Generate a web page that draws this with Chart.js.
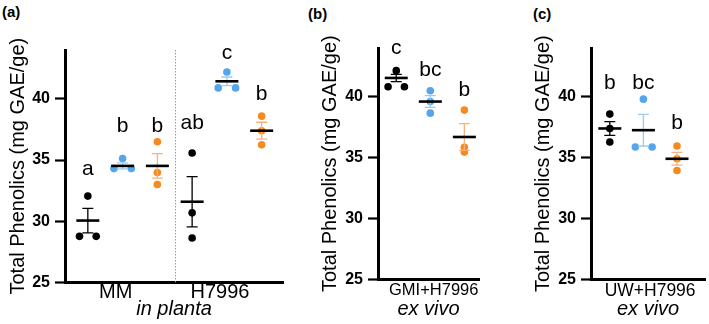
<!DOCTYPE html>
<html>
<head>
<meta charset="utf-8">
<script src="https://cdn.jsdelivr.net/npm/chart.js@4.4.1/dist/chart.umd.min.js"></script>
<style>
  body { margin: 0; background: #fff; }
  #wrap { position: relative; width: 709px; height: 324px; overflow: hidden; }
  canvas { position: absolute; top: 0; }
  .panel { position: absolute; font: bold 15px "Liberation Sans", Arial, sans-serif; color: #000; }
</style>
</head>
<body>
<div id="wrap">
  <div class="panel" style="left:2px; top:3px;">(a)</div>
  <div class="panel" style="left:308px; top:5px;">(b)</div>
  <div class="panel" style="left:533px; top:5px;">(c)</div>
  <canvas id="chartA" width="290" height="324" style="left:0px"></canvas>
  <canvas id="chartB" width="175" height="324" style="left:312px"></canvas>
  <canvas id="chartC" width="184" height="324" style="left:525px"></canvas>
</div>
<script>
var yTicks = [25, 30, 35, 40];
var yTitle = "Total Phenolics (mg GAE/ge)";

// k = black (control), b = blue, o = orange

// ---- panel (a): in planta, slots 1-3 = MM, 4-6 = H7996
var catsA    = ["MM", "H7996"];
var catPosA  = [1.8, 4.8];
var subA     = "in planta";
var colorA   = ["k", "b", "o", "k", "b", "o"];
var repsA    = [[32.05, 28.76, 28.76], [35.13, 34.3, 34.3], [36.5, 33.98, 33.0],
                [35.57, 30.68, 28.62], [42.2, 40.9, 40.9], [38.59, 37.4, 36.25]];
var jitterA  = [[0, -0.24, 0.24], [0, -0.25, 0.25], [0, 0, 0],
                [0, 0, 0], [0, -0.25, 0.25], [0, 0, 0]];
var meanA    = [30.05, 34.52, 34.52, 31.59, 41.44, 37.4];
var semA     = [1.0, 0.25, 1.0, 2.06, 0.35, 0.69];
var lettersA = ["a", "b", "b", "ab", "c", "b"];
var letterYA = [33.8, 37.3, 37.3, 37.55, 43.3, 39.9];

// ---- panel (b): GMI+H7996 ex vivo
var catsB    = ["GMI+H7996"];
var catPosB  = [2.1];
var subB     = "ex vivo";
var colorB   = ["k", "b", "o"];
var repsB    = [[42.14, 40.82, 40.82], [40.49, 39.6, 38.65], [38.9, 35.85, 35.45]];
var jitterB  = [[0, -0.24, 0.24], [0, 0, 0], [0, 0, 0]];
var meanB    = [41.54, 39.6, 36.69];
var semB     = [0.3, 0.48, 1.1];
var lettersB = ["c", "bc", "b"];
var letterYB = [43.5, 41.73, 40.08];

// ---- panel (c): UW+H7996 ex vivo
var catsC    = ["UW+H7996"];
var catPosC  = [2.2];
var subC     = "ex vivo";
var colorC   = ["k", "b", "o"];
var repsC    = [[38.57, 37.39, 36.28], [39.8, 35.87, 35.87], [35.95, 34.9, 33.94]];
var jitterC  = [[0, 0, 0], [0, -0.24, 0.26], [0, 0, 0]];
var meanC    = [37.39, 37.25, 34.9];
var semC     = [0.57, 1.3, 0.52];
var lettersC = ["b", "bc", "b"];
var letterYC = [40.63, 40.63, 37.32];

var dotColor = { k: "#000000", b: "#55a5ee", o: "#f68a1e" };
var barColor = { k: "#000000", b: "#9ccaf2", o: "#f5b27c" };
var FONT = '"Liberation Sans", Arial, sans-serif';

// mean line, SEM bars, significance letters and (a)'s divider
function marksPlugin(p) {
  return {
    id: "marks",
    afterDatasetsDraw: function(chart) {
      var ctx = chart.ctx;
      var xs = chart.scales.x;
      var ys = chart.scales.y;
      ctx.save();

      if (p.divider) {
        var dx = Math.round(xs.getPixelForValue(p.divider)) + 0.5;
        ctx.strokeStyle = "#9a9a9a";
        ctx.lineWidth = 1;
        ctx.setLineDash([1.5, 1.5]);
        ctx.beginPath();
        ctx.moveTo(dx, chart.chartArea.top);
        ctx.lineTo(dx, chart.chartArea.bottom);
        ctx.stroke();
        ctx.setLineDash([]);
      }

      for (var i = 0; i < p.mean.length; i++) {
        var x  = xs.getPixelForValue(i + 1);
        var ym = ys.getPixelForValue(p.mean[i]);
        var yt = ys.getPixelForValue(p.mean[i] + p.sem[i]);
        var yb = ys.getPixelForValue(p.mean[i] - p.sem[i]);

        ctx.strokeStyle = barColor[p.color[i]];
        ctx.lineWidth = 1.3;
        ctx.beginPath();
        ctx.moveTo(x, yt); ctx.lineTo(x, yb);
        ctx.moveTo(x - 5.5, yt); ctx.lineTo(x + 5.5, yt);
        ctx.moveTo(x - 5.5, yb); ctx.lineTo(x + 5.5, yb);
        ctx.stroke();

        ctx.strokeStyle = "#000";
        ctx.lineWidth = 2.6;
        ctx.beginPath();
        ctx.moveTo(x - 11.5, ym); ctx.lineTo(x + 11.5, ym);
        ctx.stroke();

        ctx.fillStyle = "#000";
        ctx.font = "21px " + FONT;
        ctx.textAlign = "center";
        ctx.textBaseline = "alphabetic";
        ctx.fillText(p.letters[i], x, ys.getPixelForValue(p.letterY[i]));
      }
      ctx.restore();
    }
  };
}

function makePanel(id, p) {
  var datasets = [];
  for (var i = 0; i < p.reps.length; i++) {
    var pts = [];
    for (var j = 0; j < p.reps[i].length; j++) {
      pts.push({ x: i + 1 + p.jitter[i][j], y: p.reps[i][j] });
    }
    datasets.push({
      data: pts,
      backgroundColor: dotColor[p.color[i]],
      borderWidth: 0,
      pointRadius: 3.8,
      pointHoverRadius: 3.8
    });
  }

  new Chart(document.getElementById(id), {
    type: "scatter",
    data: { datasets: datasets },
    plugins: [marksPlugin(p)],
    options: {
      responsive: false,
      animation: false,
      events: [],
      layout: { padding: { top: p.top, right: p.right, bottom: 0, left: 0 } },
      plugins: { legend: { display: false }, tooltip: { enabled: false } },
      scales: {
        x: {
          type: "linear",
          min: p.xmin,
          max: p.xmax,
          afterBuildTicks: function(scale) {
            scale.ticks = p.catPos.map(function(v) { return { value: v }; });
          },
          afterFit: function(scale) { scale.height = p.xh; },
          ticks: {
            color: "#000",
            padding: p.catPad,
            maxRotation: 0,
            autoSkip: false,
            font: { family: FONT, size: p.catSize },
            callback: function(v, idx) { return p.cats[idx]; }
          },
          grid: { display: false, drawTicks: false },
          border: { display: true, color: "#000", width: 3 },
          title: {
            display: true,
            text: p.sub,
            color: "#000",
            font: { family: FONT, size: 20, style: "italic" },
            padding: { top: 0, bottom: 3 }
          }
        },
        y: {
          min: 25,
          max: 44,
          afterBuildTicks: function(scale) {
            scale.ticks = yTicks.map(function(v) { return { value: v }; });
          },
          afterFit: function(scale) { scale.width = p.yw; },
          ticks: {
            color: "#000",
            padding: 5,
            font: { family: FONT, size: 16, weight: "bold" }
          },
          grid: {
            drawOnChartArea: false,
            drawTicks: true,
            tickLength: 10,
            tickWidth: 2.2,
            tickColor: "#000"
          },
          border: { display: true, color: "#000", width: 3 },
          title: {
            display: true,
            text: yTitle,
            color: "#000",
            font: { family: FONT, size: 20 },
            padding: { top: 6, bottom: 0 }
          }
        }
      }
    }
  });
}

makePanel("chartA", {
  cats: catsA, catPos: catPosA, sub: subA, color: colorA, reps: repsA, jitter: jitterA,
  mean: meanA, sem: semA, letters: lettersA, letterY: letterYA,
  xmin: 0.343, xmax: 6.614, divider: 3.5,
  top: 50, right: 7, xh: 41.7, yw: 65, catSize: 20, catPad: -2
});

makePanel("chartB", {
  cats: catsB, catPos: catPosB, sub: subB, color: colorB, reps: repsB, jitter: jitterB,
  mean: meanB, sem: semB, letters: lettersB, letterY: letterYB,
  xmin: 0.464, xmax: 3.43, divider: null,
  top: 48, right: 8, xh: 44.7, yw: 66, catSize: 16.5, catPad: 1
});

makePanel("chartC", {
  cats: catsC, catPos: catPosC, sub: subC, color: colorC, reps: repsC, jitter: jitterC,
  mean: meanC, sem: semC, letters: lettersC, letterY: letterYC,
  xmin: 0.44, xmax: 3.84, divider: null,
  top: 48, right: 1, xh: 44.7, yw: 66, catSize: 17.5, catPad: 1
});
</script>
</body>
</html>
